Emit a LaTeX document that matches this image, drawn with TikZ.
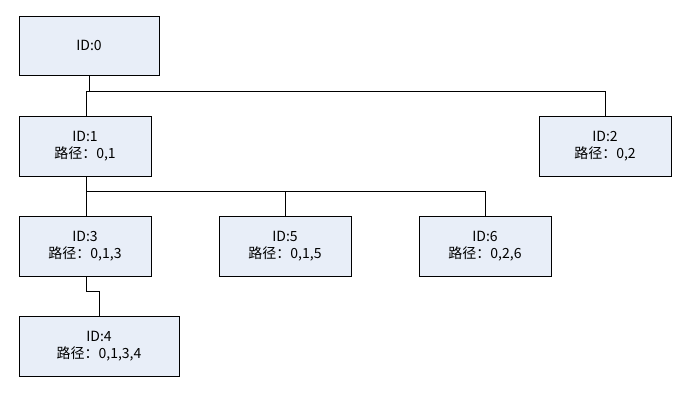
\documentclass[tikz,border=0pt]{standalone}
\usepackage{fontspec}
\newfontfamily\cjk{Noto Sans CJK SC}
\definecolor{boxfill}{HTML}{E8EEF8}
\tikzset{bx/.style={draw=black,fill=boxfill,line width=0.6pt,align=center,font=\cjk\fontsize{10.5pt}{13pt}\selectfont,inner sep=0pt},
ln/.style={line width=0.6pt}}
\begin{document}
\begin{tikzpicture}[x=0.75pt,y=-0.75pt]
\useasboundingbox (0,0) rectangle (686,401);
\newcommand{\bxat}[6]{\node[bx,minimum width={(#4-#2)*0.75pt},minimum height={(#5-#3)*0.75pt}] (#1) at ({(#2+#4)/2},{(#3+#5)/2}) {#6};}
\bxat{n0}{19}{16}{159}{75}{ID:0}
\bxat{n1}{19}{116}{151}{176}{ID:1\\路径：0,1}
\bxat{n2}{539}{116}{671}{176}{ID:2\\路径：0,2}
\bxat{n3}{19}{216}{151}{276}{ID:3\\路径：0,1,3}
\bxat{n5}{219}{216}{351}{276}{ID:5\\路径：0,1,5}
\bxat{n6}{419}{216}{551}{276}{ID:6\\路径：0,2,6}
\bxat{n4}{19}{316}{179}{376}{ID:4\\路径：0,1,3,4}
\coordinate (a) at (89,91);
\draw[ln] (n0.south -| a) -- (a);
\draw[ln] (86,91) -- (605,91);
\draw[ln] (86,91) -- (n1.north -| 86,0);
\draw[ln] (605,91) -- (n2.north -| 605,0);
\draw[ln] (n1.south -| 86,0) -- (86,191) -- (485,191);
\draw[ln] (86,191) -- (n3.north -| 86,0);
\draw[ln] (285,191) -- (n5.north -| 285,0);
\draw[ln] (485,191) -- (n6.north -| 485,0);
\draw[ln] (n3.south -| 86,0) -- (86,291) -- (99,291) -- (n4.north -| 99,0);
\end{tikzpicture}
\end{document}
